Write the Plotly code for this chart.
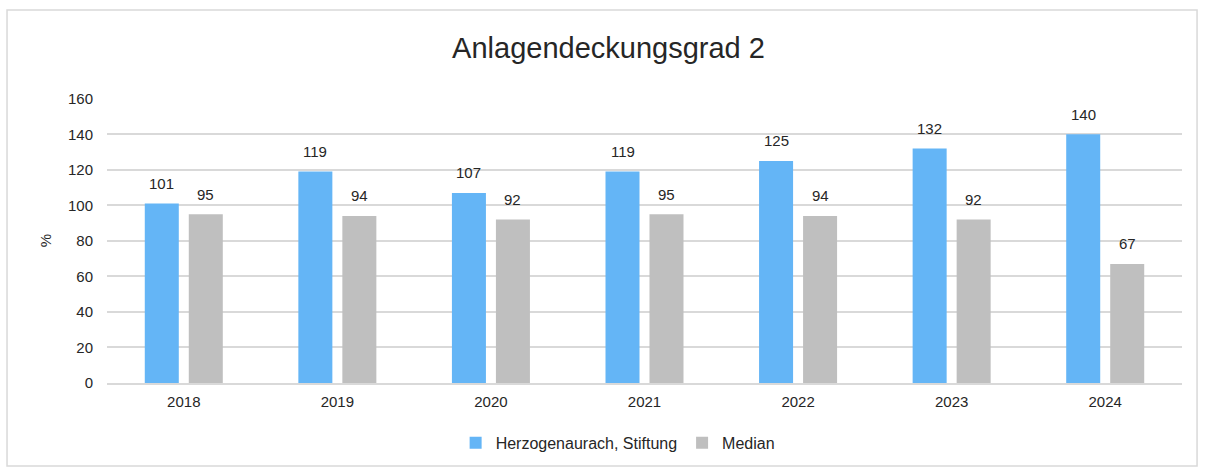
import plotly.graph_objects as go

# Data
years = ["2018", "2019", "2020", "2021", "2022", "2023", "2024"]
stiftung = [101, 119, 107, 119, 125, 132, 140]
median = [95, 94, 92, 95, 94, 92, 67]
y_ticks = [0, 20, 40, 60, 80, 100, 120, 140, 160]

blue = "#64B5F6"
grey = "#BFBFBF"
font = "Liberation Sans, Arial, sans-serif"
text_col = "#262626"

fig = go.Figure()
fig.add_trace(go.Bar(x=years, y=stiftung, name="Herzogenaurach, Stiftung",
                     marker=dict(color=blue, line=dict(width=0))))
fig.add_trace(go.Bar(x=years, y=median, name="Median",
                     marker=dict(color=grey, line=dict(width=0))))

# Value labels above the bars (x given as category index)
for i, (a, b) in enumerate(zip(stiftung, median)):
    fig.add_annotation(x=i, y=a, text=str(a), showarrow=False, xshift=-22, yshift=20,
                       font=dict(size=15, color=text_col, family=font))
    fig.add_annotation(x=i, y=b, text=str(b), showarrow=False, xshift=22, yshift=20,
                       font=dict(size=15, color=text_col, family=font))

# Outer border of the chart
fig.add_shape(type="rect", xref="paper", yref="paper",
              x0=-0.093, x1=1.014, y0=-0.291, y1=1.309,
              line=dict(color="#D9D9D9", width=1.5), layer="below")

fig.update_layout(
    width=1205, height=474,
    margin=dict(l=107, r=23, t=98, b=91),
    paper_bgcolor="white", plot_bgcolor="white",
    barmode="group", bargap=0.427, bargroupgap=0.227,
    title=dict(text="Anlagendeckungsgrad 2", x=0.505, xanchor="center", y=0.9, yanchor="middle",
               font=dict(size=29, color=text_col, family=font)),
    font=dict(family=font, size=15, color=text_col),
    showlegend=True,
    legend=dict(orientation="h", x=0.475, xanchor="center", y=-0.21, yanchor="middle",
                font=dict(size=16, color=text_col), itemwidth=30,
                traceorder="normal", tracegroupgap=0),
    xaxis=dict(type="category", range=[-0.5, len(years) - 0.5], showgrid=False,
               showline=True, linecolor="#D9D9D9", linewidth=1.5, ticks="",
               ticklabelstandoff=4, tickfont=dict(size=15)),
    yaxis=dict(range=[0, 160.4], tickvals=y_ticks, showgrid=True, gridcolor="#D9D9D9",
               gridwidth=1.5, zeroline=False, showline=False, ticks="",
               ticklabelstandoff=13, tickfont=dict(size=15),
               title=dict(text="%", font=dict(size=15), standoff=12)),
)

fig.write_html("out.html", config={"displayModeBar": False},
               post_script="document.body.style.margin='0';")
